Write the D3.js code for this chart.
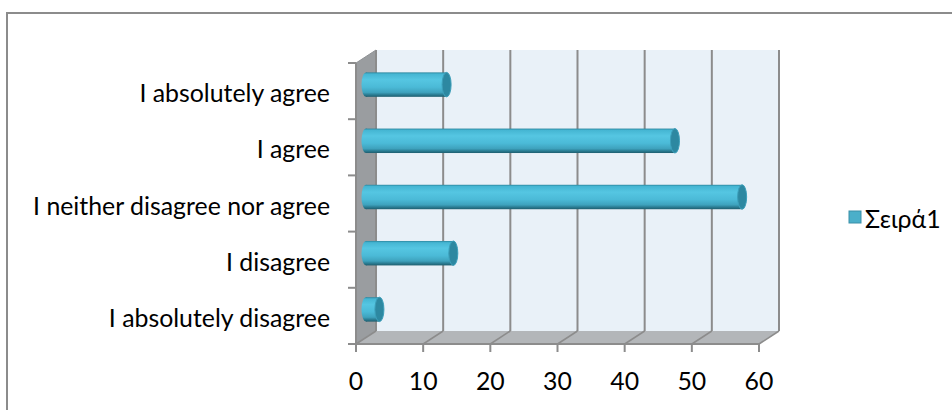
<!DOCTYPE html>
<html><head><meta charset="utf-8">
<script src="https://cdn.jsdelivr.net/npm/d3@7"></script>
<style>html,body{margin:0;padding:0;background:#fff;}svg{display:block;}</style>
</head><body>
<script>
const categories = ["I absolutely disagree","I disagree","I neither disagree nor agree","I agree","I absolutely agree"];
const values = [2, 13, 56, 46, 12];
const xTicks = [0, 10, 20, 30, 40, 50, 60];
const seriesName = "Σειρά1";

const W = 952, H = 410;
const svg = d3.select("body").append("svg").attr("width", W).attr("height", H);
const FONT = "Lato, 'Open Sans', sans-serif";

// depth offset of the 3D box
const DX = 20, DY = -13;
const x = d3.scaleLinear().domain([0, 60]).range([356, 759]);
const y = d3.scaleBand().domain(categories).range([344, 63]).padding(0);
const front = { top: 63, bottom: 344, left: x(0), right: x(60) };

// outer border
svg.append("rect").attr("x", 7).attr("y", 13).attr("width", 960).attr("height", 420)
  .attr("fill", "none").attr("stroke", "#8c8c8c").attr("stroke-width", 2);

const defs = svg.append("defs");
const g = defs.append("linearGradient").attr("id", "cyl").attr("x1", 0).attr("y1", 0).attr("x2", 0).attr("y2", 1);
[[0, "#2b879f"], [0.07, "#45b6d3"], [0.3, "#55c6e2"], [0.6, "#4bbad7"], [0.82, "#3ea2bd"], [0.9, "#2d8299"], [1, "#1e5e6f"]]
  .forEach(([o, c]) => g.append("stop").attr("offset", o).attr("stop-color", c));

// back wall
svg.append("rect").attr("x", front.left + DX).attr("y", front.top + DY)
  .attr("width", front.right - front.left).attr("height", front.bottom - front.top)
  .attr("fill", "#e9f1f8");
// left wall
svg.append("polygon").attr("points", [
  [front.left, front.top], [front.left + DX, front.top + DY],
  [front.left + DX, front.bottom + DY], [front.left, front.bottom]].map(p => p.join(",")).join(" "))
  .attr("fill", "#9a9da0");
// floor
svg.append("polygon").attr("points", [
  [front.left, front.bottom], [front.left + DX, front.bottom + DY],
  [front.right + DX, front.bottom + DY], [front.right, front.bottom]].map(p => p.join(",")).join(" "))
  .attr("fill", "#b3b6b9");

const GRID = "#8c8c8c";
// back wall gridlines
svg.append("g").selectAll("line").data(xTicks).join("line")
  .attr("x1", d => x(d) + DX).attr("x2", d => x(d) + DX)
  .attr("y1", front.top + DY).attr("y2", front.bottom + DY)
  .attr("stroke", GRID).attr("stroke-width", 2);
// floor gridlines
svg.append("g").selectAll("line").data(xTicks).join("line")
  .attr("x1", d => x(d)).attr("x2", d => x(d) + DX)
  .attr("y1", front.bottom).attr("y2", front.bottom + DY)
  .attr("stroke", GRID).attr("stroke-width", 1.5);
// floor front edge
svg.append("line").attr("x1", front.left).attr("x2", front.right)
  .attr("y1", front.bottom).attr("y2", front.bottom).attr("stroke", GRID).attr("stroke-width", 2);
// left axis line
svg.append("line").attr("x1", front.left).attr("x2", front.left)
  .attr("y1", front.top).attr("y2", front.bottom).attr("stroke", GRID).attr("stroke-width", 2);
// left wall top slant
svg.append("line").attr("x1", front.left).attr("x2", front.left + DX)
  .attr("y1", front.top).attr("y2", front.top + DY).attr("stroke", "#8f9295").attr("stroke-width", 1);

// y ticks (band boundaries)
const yBounds = categories.map(c => y(c)).concat([y(categories[categories.length - 1]) ]);
const bw = y.bandwidth();
const bounds = d3.range(categories.length + 1).map(i => front.bottom - i * bw);
svg.append("g").selectAll("line").data(bounds).join("line")
  .attr("x1", front.left - 8).attr("x2", front.left)
  .attr("y1", d => d).attr("y2", d => d)
  .attr("stroke", GRID).attr("stroke-width", 2);
// x ticks
svg.append("g").selectAll("line").data(xTicks).join("line")
  .attr("x1", d => x(d)).attr("x2", d => x(d))
  .attr("y1", front.bottom).attr("y2", front.bottom + 8)
  .attr("stroke", GRID).attr("stroke-width", 2);

// bars (cylinders) at mid depth
const th = bw * 0.435, rx = 4.5;
const bars = svg.append("g").selectAll("g").data(categories.map((c, i) => ({ c, v: values[i] }))).join("g");
bars.each(function (d) {
  const gg = d3.select(this);
  const cy = y(d.c) + bw / 2 + DY / 2;
  const x0 = x(0) + DX / 2, x1 = x(d.v) + DX / 2;
  gg.append("ellipse").attr("cx", x0).attr("cy", cy).attr("rx", rx).attr("ry", th / 2).attr("fill", "url(#cyl)");
  gg.append("rect").attr("x", x0).attr("y", cy - th / 2).attr("width", x1 - x0).attr("height", th).attr("fill", "url(#cyl)");
  gg.append("ellipse").attr("cx", x1).attr("cy", cy).attr("rx", rx).attr("ry", th / 2)
    .attr("fill", "#2d88a1").attr("stroke", "#3c9fba").attr("stroke-width", 1);
});

// text
const labelG = svg.append("g").attr("font-family", FONT).attr("fill", "#000");
const probe = labelG.append("text").attr("font-size", 20).text("I neither disagree nor agree");
const fs = 20 * 297 / probe.node().getComputedTextLength();
probe.remove();
labelG.attr("font-size", fs);

labelG.selectAll("text.cat").data(categories).join("text").attr("class", "cat")
  .attr("x", 330).attr("y", d => y(d) + bw / 2 + 1).attr("text-anchor", "end")
  .attr("dominant-baseline", "central").text(d => d);
labelG.selectAll("text.xt").data(xTicks).join("text").attr("class", "xt")
  .attr("x", d => x(d)).attr("y", 380).attr("text-anchor", "middle")
  .attr("dominant-baseline", "central").text(d => d);

// legend
svg.append("rect").attr("x", 849).attr("y", 211).attr("width", 12).attr("height", 12)
  .attr("fill", "#4bafc9").attr("stroke", "#3a8fa8").attr("stroke-width", 1);
labelG.append("text").attr("x", 865).attr("y", 218).attr("dominant-baseline", "central").text(seriesName);
</script>
</body></html>
